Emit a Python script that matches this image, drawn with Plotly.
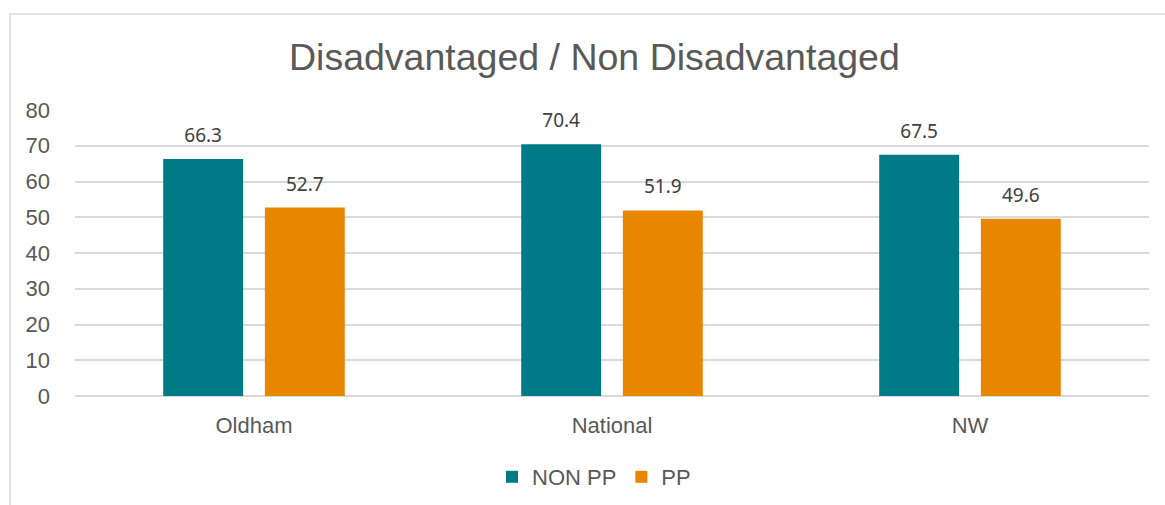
import plotly.graph_objects as go

categories = ["Oldham", "National", "NW"]
non_pp = [66.3, 70.4, 67.5]
pp = [52.7, 51.9, 49.6]
series_names = ["NON PP", "PP"]
y_ticks = [0, 10, 20, 30, 40, 50, 60, 70, 80]

TEAL = "#007A87"
ORANGE = "#E88600"
GRID = "#D9D9D9"
TXT = "#595959"
W, H = 1165, 505
ML, MR, MT, MB = 75, 16, 110, 109
GAP = 0.432

fig = go.Figure()
for name, vals, col, grp in [(series_names[0], non_pp, TEAL, "a"), (series_names[1], pp, ORANGE, "b")]:
    fig.add_trace(go.Bar(x=categories, y=vals, name=name, marker_color=col,
                         marker_line_width=0, offsetgroup=grp, alignmentgroup="g"))
for vals, grp in [(non_pp, "a"), (pp, "b")]:
    fig.add_trace(go.Scatter(x=categories, y=vals, mode="text+markers", text=[f"{v:.1f}" for v in vals],
                             textposition="top center", offsetgroup=grp, alignmentgroup="g",
                             marker=dict(size=18, opacity=0), showlegend=False, hoverinfo="skip",
                             cliponaxis=False,
                             textfont=dict(family="Noto Sans, sans-serif", size=19, color="#404040")))

pw = W - ML - MR
ph = H - MT - MB
def px_x(p):
    return (p - ML) / pw
def px_y(p):
    return (H - MB - p) / ph

fig.add_shape(type="rect", xref="paper", yref="paper",
              x0=px_x(10), x1=px_x(1190), y0=px_y(530), y1=px_y(14),
              line=dict(color=GRID, width=1.5), layer="below")

fig.add_annotation(text="Disadvantaged / Non Disadvantaged", xref="paper", yref="paper",
                   x=px_x(594), y=px_y(57), xanchor="center", yanchor="middle",
                   showarrow=False, font=dict(family="Liberation Sans, Arial", size=37.5, color=TXT))

fig.update_layout(
    width=W, height=H,
    margin=dict(l=ML, r=MR, t=MT, b=MB, autoexpand=False),
    paper_bgcolor="white", plot_bgcolor="white",
    barmode="group", bargap=GAP, bargroupgap=0.214,
    scattermode="group", scattergap=GAP,
    font=dict(family="Liberation Sans, Arial", size=22, color=TXT),
    showlegend=True,
    legend=dict(orientation="h", xref="container", yref="container", x=594 / W, y=1 - 477 / H,
                xanchor="center", yanchor="middle", font=dict(size=22, color=TXT),
                itemwidth=30, tracegroupgap=0, traceorder="normal"),
    xaxis=dict(showgrid=False, showline=False, ticks="", tickfont=dict(size=22, color=TXT),
               ticklabelstandoff=14, automargin=False),
    yaxis=dict(range=[0, 80], tickvals=y_ticks, showgrid=True, gridcolor=GRID, gridwidth=1.5,
               zeroline=True, zerolinecolor=GRID, zerolinewidth=1.5, showline=False, ticks="",
               tickfont=dict(size=22, color=TXT), ticklabelstandoff=24, automargin=False),
)

fig.write_html("out.html", config={"displayModeBar": False},
               post_script="document.body.style.margin='0';document.body.style.overflow='hidden';")
